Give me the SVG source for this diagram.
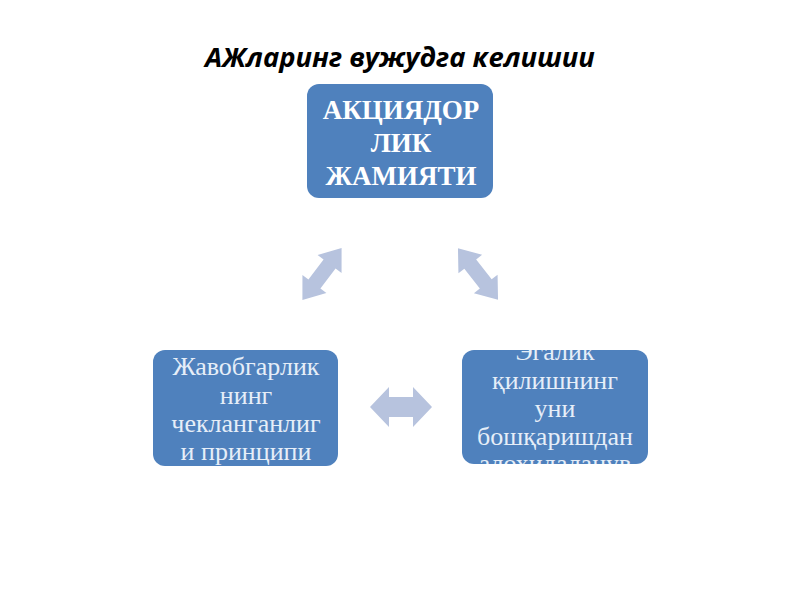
<svg xmlns="http://www.w3.org/2000/svg" width="800" height="600" viewBox="0 0 800 600">
<defs>
<style>
.title{font-family:"Open Sans","DejaVu Sans",sans-serif;font-weight:700;font-style:italic;font-size:27.4px;fill:#000;text-anchor:middle}
.box{fill:#4f81bd;stroke:none}
.top{font-family:"Liberation Serif","DejaVu Serif",serif;font-weight:700;font-size:27px;fill:#ffffff;text-anchor:middle}
.low{font-family:"Liberation Serif","DejaVu Serif",serif;font-size:26px;fill:#e6eef8;text-anchor:middle}
.arr{fill:#b7c3de}
</style>
<path id="dbl" d="M-31,0 L-12,-20 L-12,-10 L12,-10 L12,-20 L31,0 L12,20 L12,10 L-12,10 L-12,20 Z"/>
<clipPath id="clipR"><rect x="462" y="350" width="186" height="114" rx="12"/></clipPath>
</defs>
<rect width="800" height="600" fill="#ffffff"/>
<text class="title" x="400" y="67">АЖларинг вужудга келишии</text>
<g id="connectors">
<use href="#dbl" class="arr" transform="translate(322,274) rotate(-53) scale(1.05,0.75)"/>
<use href="#dbl" class="arr" transform="translate(478,274) rotate(52) scale(1.05,0.75)"/>
<use href="#dbl" class="arr" transform="translate(401,407)"/>
</g>
<g id="node-top">
<rect class="box" x="307" y="84" width="186" height="114" rx="12"/>
<text class="top" x="401" y="119">АКЦИЯДОР</text>
<text class="top" x="401" y="152">ЛИК</text>
<text class="top" x="401" y="185">ЖАМИЯТИ</text>
</g>
<g id="node-left">
<rect class="box" x="153" y="350" width="185" height="116" rx="12"/>
<text class="low" x="246" y="375">Жавобгарлик</text>
<text class="low" x="246" y="403.5">нинг</text>
<text class="low" x="246" y="432">чекланганлиг</text>
<text class="low" x="246" y="460">и принципи</text>
</g>
<g id="node-right">
<rect class="box" x="462" y="350" width="186" height="114" rx="12"/>
<g clip-path="url(#clipR)">
<text class="low" x="555" y="360">Эгалик</text>
<text class="low" x="555" y="389">қилишнинг</text>
<text class="low" x="555" y="417">уни</text>
<text class="low" x="555" y="445">бошқаришдан</text>
<text class="low" x="555" y="472">алохидаланув</text>
</g>
</g>
</svg>
